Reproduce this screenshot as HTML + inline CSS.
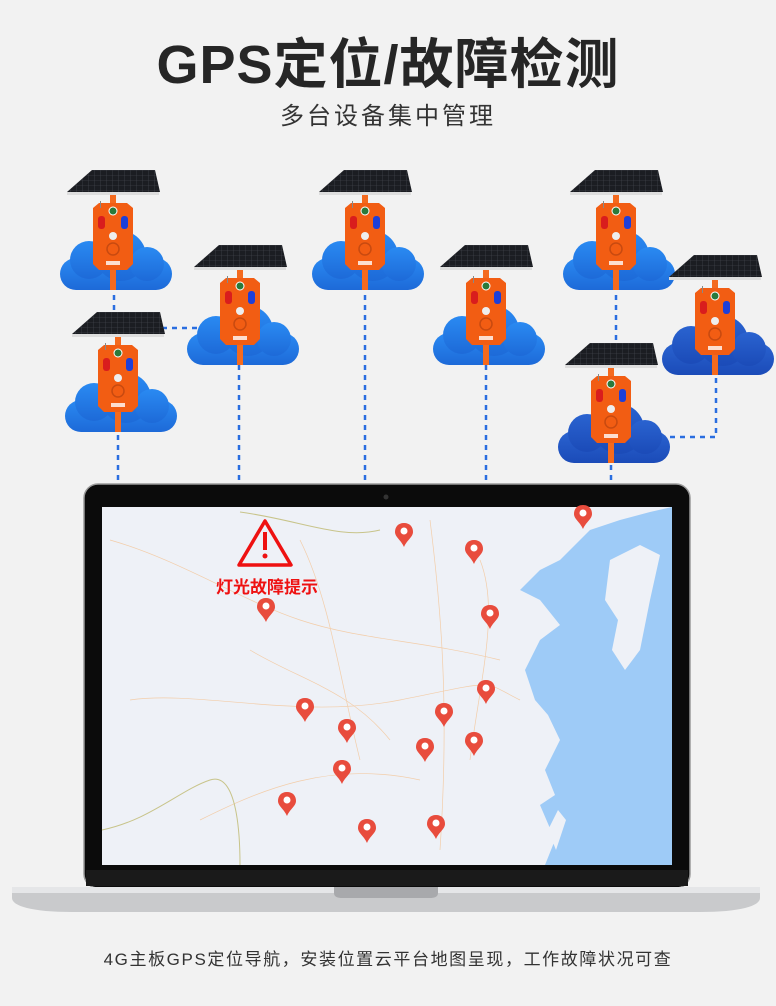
<!DOCTYPE html>
<html><head><meta charset="utf-8"><style>
body{margin:0;width:776px;height:1006px;background:#f2f2f2;overflow:hidden;position:relative;font-family:"Liberation Sans","Noto Sans CJK SC",sans-serif}
.t{position:absolute;left:0;width:776px;text-align:center;color:#222}
</style></head><body>
<div class="t" style="top:30px;font-size:54px;font-weight:bold;letter-spacing:1px;line-height:70px;color:#262626">GPS定位/故障检测</div>
<div class="t" style="top:101px;font-size:24px;line-height:32px;letter-spacing:3px;color:#333">多台设备集中管理</div>
<div class="t" style="top:948px;font-size:17px;line-height:24px;letter-spacing:1.6px;color:#333">4G主板GPS定位导航，安装位置云平台地图呈现，工作故障状况可查</div>
<svg width="776" height="1006" style="position:absolute;left:0;top:0">
<defs>
<linearGradient id="cg" x1="0" y1="0" x2="0" y2="1"><stop offset="0" stop-color="#2a8af2"/><stop offset="1" stop-color="#1d6ad8"/></linearGradient>
<linearGradient id="cg2" x1="0" y1="0" x2="0" y2="1"><stop offset="0" stop-color="#2a63d0"/><stop offset="1" stop-color="#1b4bb8"/></linearGradient>
<pattern id="grid" width="6" height="5" patternUnits="userSpaceOnUse"><rect width="6" height="5" fill="#1b1d22"/><path d="M0 0H6M0 0V5" stroke="#4a4d55" stroke-width="0.6"/></pattern>
<g id="dev">
<rect x="-3" y="25" width="6" height="95" fill="#f46a1e"/>
<path d="M-20 0H43L48 22H-45Z" fill="url(#grid)" transform="translate(-1,0)"/>
<rect x="-46" y="22" width="92" height="3" fill="#ddd"/>
<path d="M-20 38L-14 33H14L20 38V94L14 100H-14L-20 94Z" fill="#f25d13"/>
<rect x="-13" y="31" width="1" height="7" fill="#888"/>
<circle cx="0" cy="41" r="4" fill="#2a7a3a" stroke="#fff" stroke-width="1"/>
<rect x="-15" y="46" width="7" height="13" rx="3" fill="#d91d1d"/>
<rect x="8" y="46" width="7" height="13" rx="3" fill="#1d3fd9"/>
<circle cx="0" cy="66" r="4" fill="#eee"/>
<circle cx="0" cy="79" r="6" fill="none" stroke="#c84a10" stroke-width="1.5"/>
<rect x="-7" y="91" width="14" height="4" fill="#fff" opacity=".8"/>
</g>
<g id="cl"><rect x="-53" y="88" width="112" height="32" rx="16"/><circle cx="-24" cy="90" r="19"/><circle cx="8" cy="86" r="25"/><circle cx="34" cy="94" r="17"/></g>
</defs>
<g stroke="#2a6ee0" stroke-width="2.5" stroke-dasharray="5 5" fill="none">
<path d="M114 285V315M118 425V482M239 355V482M162 328H212M365 285V482M486 355V482M616 285V345M611 455V482M716 368V437H668"/>
</g>
<g fill="url(#cg)">
<use href="#cl" x="113" y="170"/><use href="#cl" x="240" y="245"/><use href="#cl" x="365" y="170"/><use href="#cl" x="486" y="245"/><use href="#cl" x="616" y="170"/><use href="#cl" x="118" y="312"/>
</g>
<g fill="url(#cg2)"><use href="#cl" x="715" y="255"/><use href="#cl" x="611" y="343"/></g>
<use href="#dev" x="113" y="170"/><use href="#dev" x="240" y="245"/><use href="#dev" x="365" y="170"/><use href="#dev" x="486" y="245"/><use href="#dev" x="616" y="170"/><use href="#dev" x="118" y="312"/><use href="#dev" x="715" y="255"/><use href="#dev" x="611" y="343"/>
<!-- laptop -->
<rect x="84" y="484" width="606" height="404" rx="14" fill="#0b0b0b" stroke="#9a9a9a" stroke-width="1.5"/>
<circle cx="386" cy="497" r="2.5" fill="#333"/>
<rect x="102" y="507" width="570" height="358" fill="#eef1f7"/>
<path d="M672 507V865H545L555 840L540 805L555 795L545 770L560 740L548 715L535 700L525 670L540 640L560 625L540 600L520 590L540 570L560 560L590 530L620 520L650 512L672 507Z" fill="#9ecbf7"/>
<path d="M610 560L640 545L660 555L650 600L640 650L625 670L612 650L618 620L605 600Z" fill="#eef1f7"/>
<path d="M548 830L558 810L566 820L556 850Z" fill="#eef1f7"/>
<g stroke="#f3c9a0" stroke-width="0.7" fill="none" opacity=".9">
<path d="M110 540C180 560 240 600 300 620S420 640 500 660M130 700C200 690 300 720 400 700S480 680 520 700M200 820C260 790 330 760 420 780M300 540C330 600 340 680 360 760M430 520C440 600 450 700 440 850M250 650C300 680 350 690 390 740M480 560C500 610 480 680 470 760"/>
</g>
<g stroke="#c8c48a" stroke-width="1" fill="none"><path d="M102 830C150 820 180 790 210 780S240 850 240 865M240 512C300 520 340 540 380 530"/></g>
<g>
<g id="pin" transform="translate(404,523)"><path d="M0 0C-6 0-9 4-9 9C-9 14-3 17 0 24C3 17 9 14 9 9C9 4 6 0 0 0Z" fill="#e84c3d"/><circle cx="0" cy="8" r="3.5" fill="#fff"/></g>
<use href="#pin" x="70" y="17"/><use href="#pin" x="179" y="-18"/><use href="#pin" x="-138" y="75"/><use href="#pin" x="86" y="82"/><use href="#pin" x="82" y="157"/><use href="#pin" x="-99" y="175"/><use href="#pin" x="-57" y="196"/><use href="#pin" x="40" y="180"/><use href="#pin" x="70" y="209"/><use href="#pin" x="21" y="215"/><use href="#pin" x="-62" y="237"/><use href="#pin" x="-117" y="269"/><use href="#pin" x="-37" y="296"/><use href="#pin" x="32" y="292"/>
</g>
<path d="M265 521L291 565H239Z" fill="none" stroke="#e11" stroke-width="3.5" stroke-linejoin="round"/>
<rect x="263" y="532" width="4" height="18" fill="#e11"/><circle cx="265" cy="556" r="2.5" fill="#e11"/>
<text x="267" y="593" text-anchor="middle" font-size="17" font-weight="bold" fill="#e11" font-family="Liberation Sans,Noto Sans CJK SC,sans-serif">灯光故障提示</text>
<rect x="86" y="870" width="602" height="16" fill="#1a1a1a"/>
<path d="M12 887H760V898C760 906 740 912 700 912H72C32 912 12 906 12 898Z" fill="#c9cacc"/>
<rect x="12" y="887" width="748" height="6" fill="#e5e6e8"/>
<path d="M334 887H438V893C438 897 434 898 430 898H342C338 898 334 897 334 893Z" fill="#a8a9ac"/>
</svg>
</body></html>
